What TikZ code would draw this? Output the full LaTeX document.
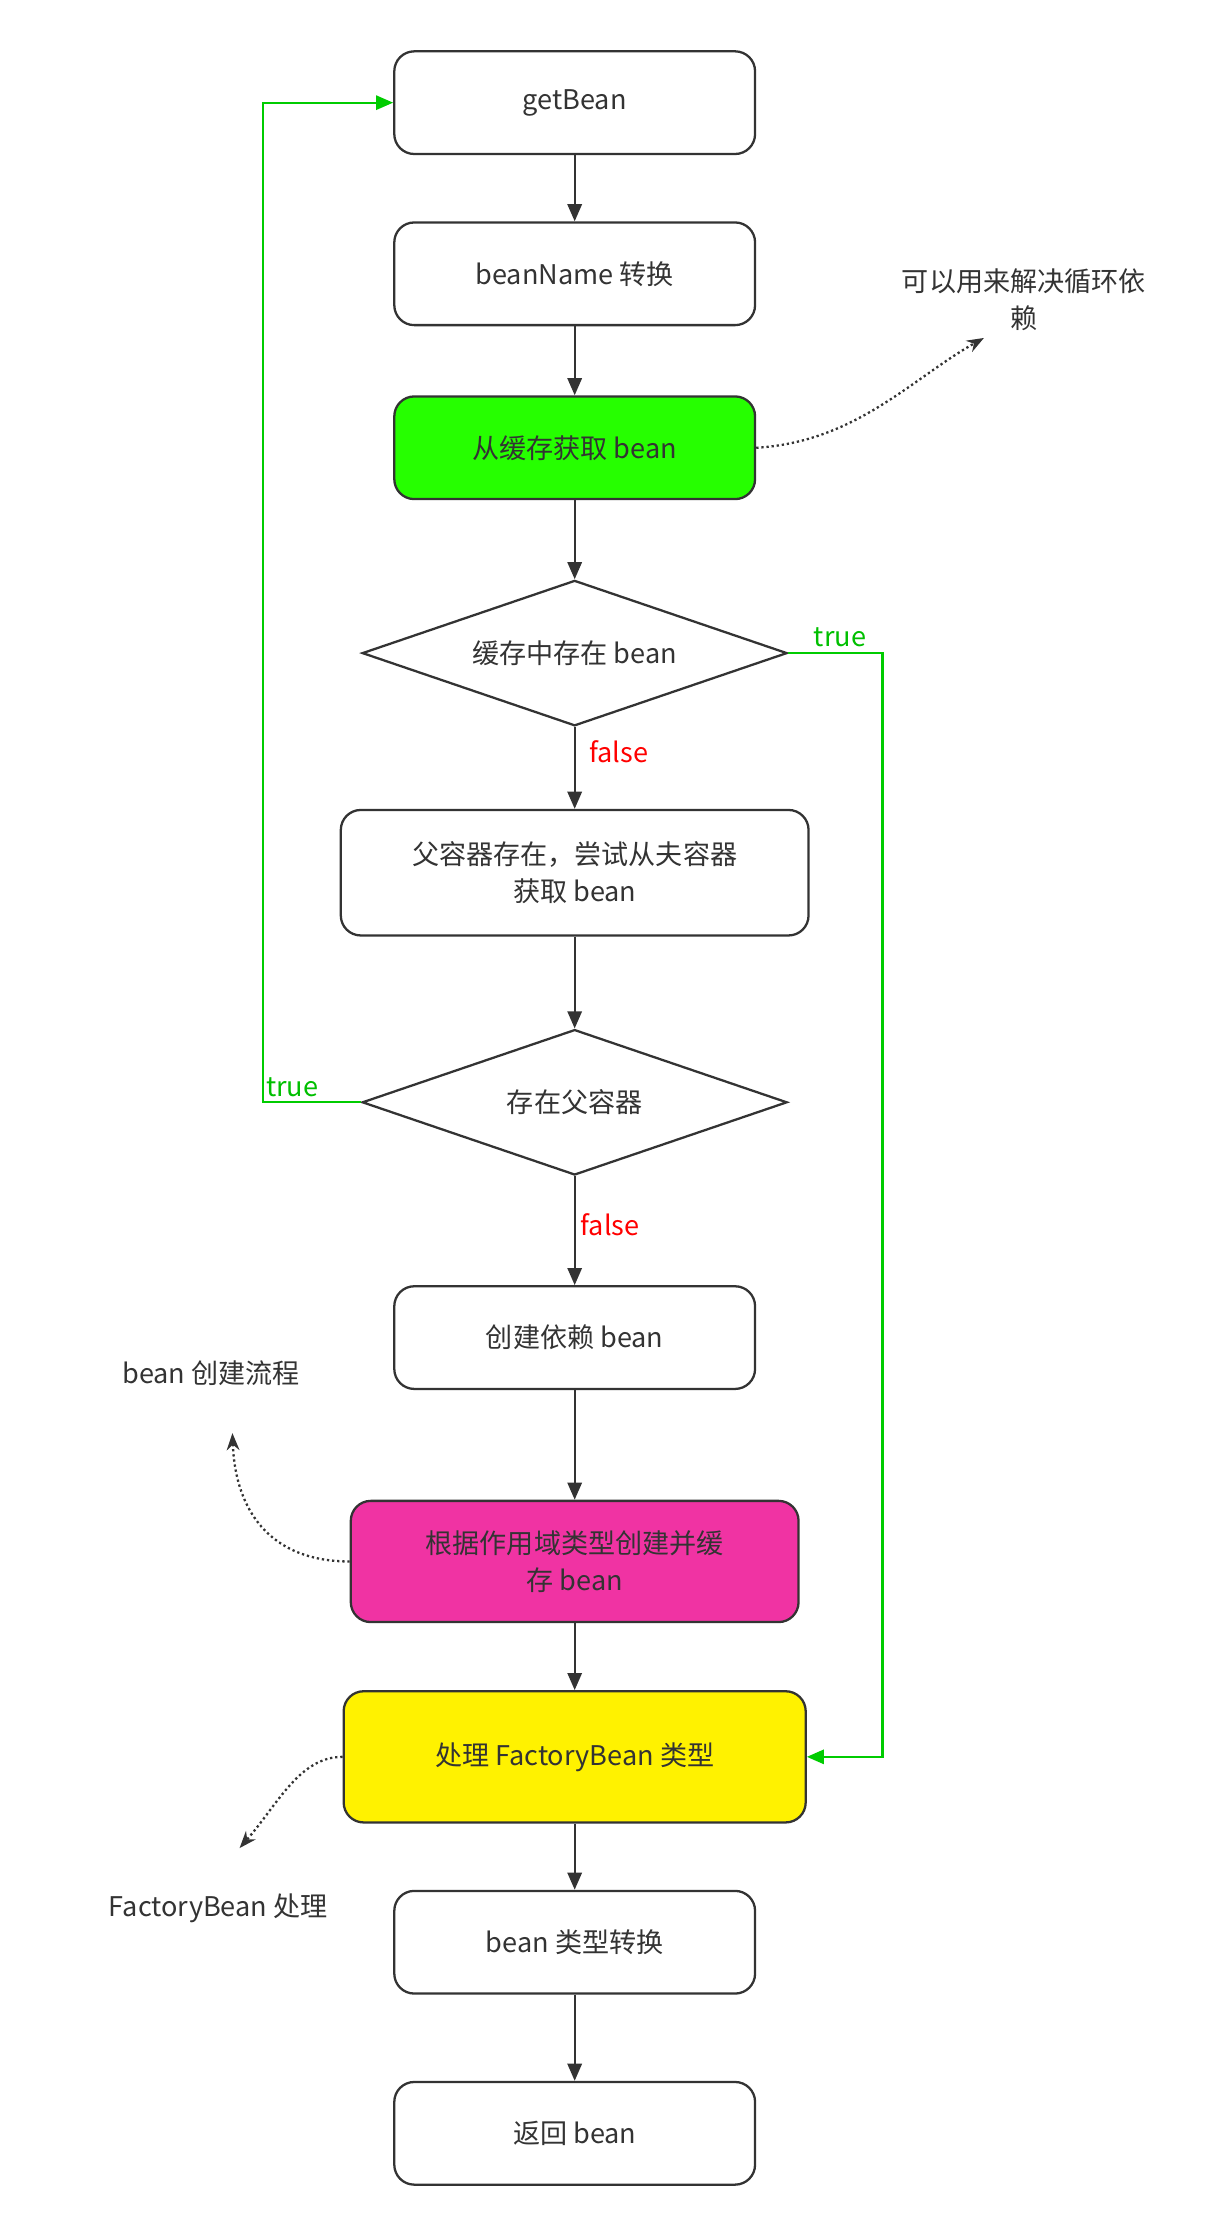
\documentclass[tikz,border=0pt]{standalone}
\usepackage{fontspec}
\setmainfont{Noto Sans CJK SC}
\usetikzlibrary{arrows.meta,shapes.geometric,calc}
\tikzstyle{phase} = [draw=black!80,line width=1.6pt,rounded corners=14pt,minimum width=253pt,minimum height=72pt,align=center,text=black!80]
\tikzstyle{test} = [draw=black!80,line width=1.6pt,diamond,aspect=2.92,minimum width=298pt,minimum height=102pt,inner sep=0pt,text=black!80]
\tikzstyle{flow} = [draw=black!80,line width=1.6pt,-{Triangle[length=12pt,width=10pt]}]
\tikzstyle{back} = [draw=green!80!black,line width=1.6pt,-{Triangle[length=12pt,width=10pt]}]
\tikzstyle{note} = [draw=black!80,line width=1.6pt,dotted,-{Stealth[length=12pt,width=9pt]}]
\tikzstyle{memo} = [align=center,text=black!80]
\begin{document}
\begin{tikzpicture}[x=1pt,y=-1pt,font=\fontsize{19pt}{26pt}\selectfont]
  \useasboundingbox (0,0) rectangle (860,1554);
  % Steps
  \node[phase] (get) at (403,72) {getBean};
  \node[phase] (name) at (403,192) {beanName 转换};
  \node[phase,fill=green!80!lime] (cache) at (403,314) {从缓存获取 bean};
  \node[test] (incache) at (403,458) {缓存中存在 bean};
  \node[phase,minimum width=328pt,minimum height=88pt] (parent) at (403,612) {父容器存在，尝试从夫容器\\获取 bean};
  \node[test] (hasparent) at (403,773) {存在父容器};
  \node[phase] (dep) at (403,938) {创建依赖 bean};
  \node[phase,fill=magenta!80!white,minimum width=314pt,minimum height=85pt] (scope) at (403,1095) {根据作用域类型创建并缓\\存 bean};
  \node[phase,fill=yellow,minimum width=324pt,minimum height=92pt] (factory) at (403,1232) {处理 FactoryBean 类型};
  \node[phase] (convert) at (403,1362) {bean 类型转换};
  \node[phase] (ret) at (403,1496) {返回 bean};
  % Main flow
  \draw[flow] (get) -- (name);
  \draw[flow] (name) -- (cache);
  \draw[flow] (cache) -- (incache);
  \draw[flow] (incache) -- node[right,text=red,pos=0.3,xshift=6pt] {false} (parent);
  \draw[flow] (parent) -- (hasparent);
  \draw[flow] (hasparent) -- node[right,text=red,pos=0.45] {false} (dep);
  \draw[flow] (dep) -- (scope);
  \draw[flow] (scope) -- (factory);
  \draw[flow] (factory) -- (convert);
  \draw[flow] (convert) -- (ret);
  % Shortcuts
  \draw[back] (incache.east) -- node[above,text=green!75!black,pos=0.55] {true} ++(66,0) |- (factory.east);
  \draw[back] (hasparent.west) -- node[above,text=green!75!black,pos=0.7] {true} ++(-69,0) |- (get.west);
  % Notes
  \node[memo] (loop) at (718,210) {可以用来解决循环依\\赖};
  \coordinate (loopend) at (690,237);
  \draw[note] (cache.east) .. controls (600,310) and (640,265) .. (loopend);
  \node[memo] (create) at (148,963) {bean 创建流程};
  \coordinate (createend) at (163,1005);
  \draw[note] (scope.west) .. controls (190,1095) and (165,1060) .. (createend);
  \node[memo] (fbean) at (153,1338) {FactoryBean 处理};
  \coordinate (fbeanend) at (168,1296);
  \draw[note] (factory.west) .. controls (210,1232) and (195,1265) .. (fbeanend);
\end{tikzpicture}
\end{document}
